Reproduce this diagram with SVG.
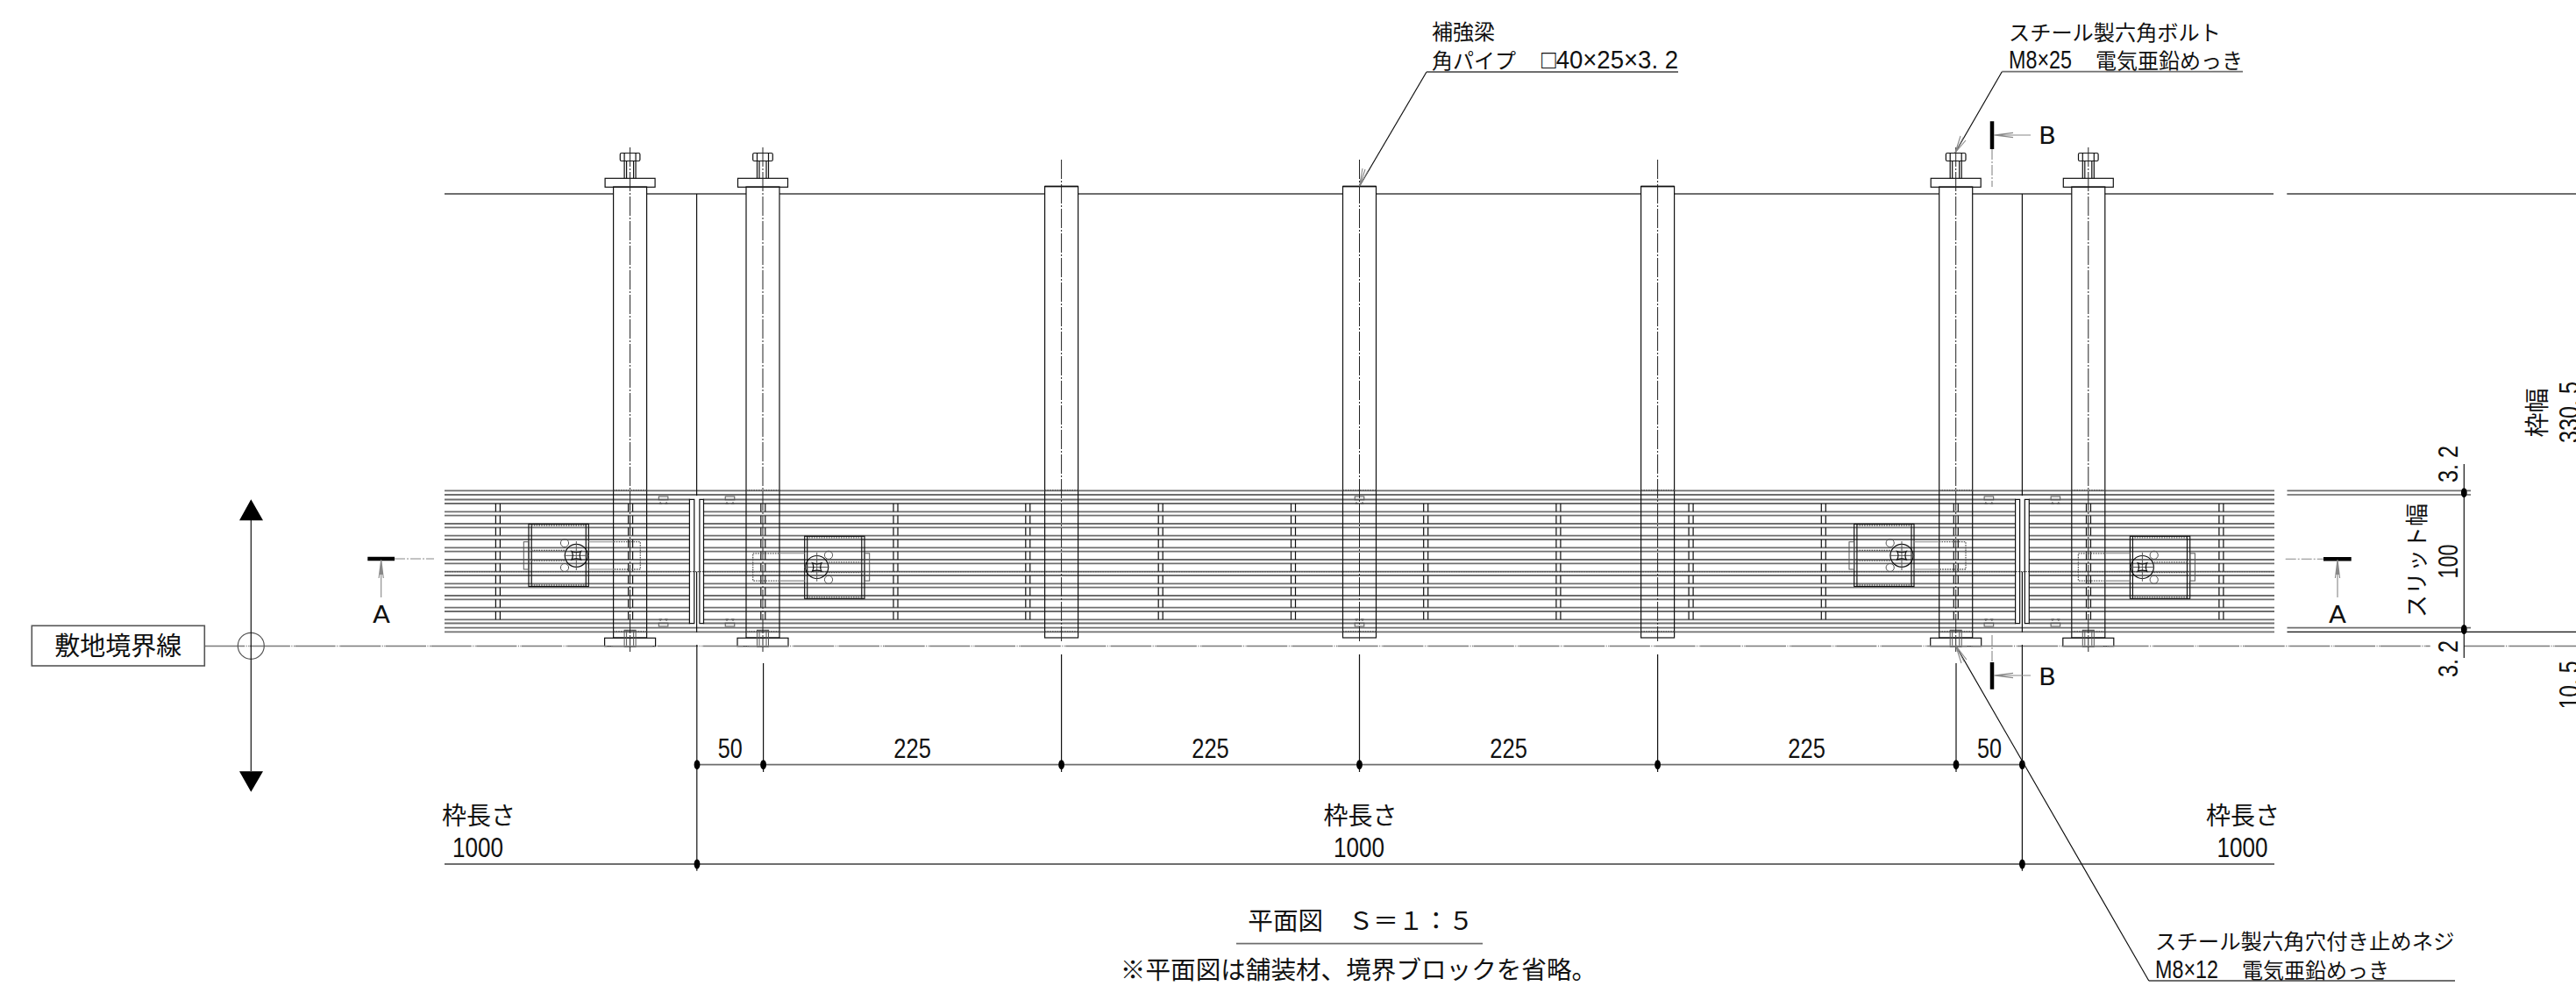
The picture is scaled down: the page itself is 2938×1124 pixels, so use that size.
<svg xmlns="http://www.w3.org/2000/svg" xmlns:xlink="http://www.w3.org/1999/xlink" width="2938" height="1124" viewBox="0 0 2938 1124">
<style>
text{fill:#111;font-family:"Noto Sans CJK JP","Liberation Sans",sans-serif}
.l{font-family:"Liberation Sans","Noto Sans CJK JP",sans-serif}
.w{font-family:"DejaVu Sans",sans-serif}
.m{text-anchor:middle}
.k{fill:none;stroke:#111;stroke-width:1.2}
.g{fill:none;stroke:#6e6e6e;stroke-width:1.8}
.h{fill:none;stroke:#888;stroke-width:1.1}
.c{fill:none;stroke:#222;stroke-width:1;stroke-dasharray:22 2 2 2}
.d{fill:none;stroke:#555;stroke-width:1.3;stroke-dasharray:1.6 1.2}
.cl{fill:none;stroke:#7a7a7a;stroke-width:1.7;stroke-dasharray:46.2 1.5 1 1.5 1 .5}
.b{fill:none;stroke:#000;stroke-width:4.5}
.s{fill:none;stroke:#555;stroke-width:1}
</style>
<defs>
<ellipse id="dot" rx="3.4" ry="5.5" fill="#000"/>
<path id="tick" class="k" d="M-2.5 574V583.3M2.5 574V583.3M-2.5 587.7V597M2.5 587.7V597M-2.5 601.3V610.6M2.5 601.3V610.6M-2.5 615V624.3M2.5 615V624.3M-2.5 628.6V638M2.5 628.6V638M-2.5 642.3V651.6M2.5 642.3V651.6M-2.5 656V665.3M2.5 656V665.3M-2.5 669.6V679M2.5 669.6V679M-2.5 683.3V692.6M2.5 683.3V692.6M-2.5 697V706.3M2.5 697V706.3"/>
<g id="clip">
<rect class="s" x="-5.3" y="566" width="10.6" height="3.8"/>
<path class="s" d="M-5 574.5H-1.5M1.5 574.5H5M-3.5 572V574.5M3.5 572V574.5"/>
<rect class="s" x="-5.3" y="710.2" width="10.6" height="3.8"/>
<path class="s" d="M-5 706H-1.5M1.5 706H5M-3.5 706V708M3.5 706V708"/>
</g>
<g id="plainPipe">
<rect x="-19" y="213" width="38" height="343" fill="#fff"/>
<path class="g" d="M-19 212.5H19"/>
<rect class="k" x="-19" y="212.5" width="38" height="514.5"/>
<path class="d" d="M-19 559H19M-19 720H19"/>
<path class="c" d="M0 182V731"/>
</g>
<g id="boltedPipe">
<rect x="-19" y="213" width="38" height="343" fill="#fff"/>
<rect class="k" x="-19" y="213" width="38" height="514"/>
<path class="d" d="M-19 559H19M-19 720H19"/>
<rect class="k" x="-28.5" y="203.3" width="57" height="10" fill="#fff"/>
<rect class="k" x="-29" y="727.3" width="58" height="9.4"/>
<path class="k" d="M-6.5 183.5V203.3M6.5 183.5V203.3M-4 183.5V203.3M4 183.5V203.3"/>
<rect class="k" x="-11.3" y="174.5" width="22.6" height="9" rx="1.5"/>
<path class="k" d="M-6.5 174.5V183.5M6.5 174.5V183.5"/>
<rect class="s" x="-6.5" y="718.3" width="13" height="19"/>
<path class="s" d="M-4 718.3V737.3M4 718.3V737.3"/>
<path class="d" d="M-6.5 719H6.5"/>
<path class="c" d="M0 168V743"/>
</g>
<g id="plate">
<rect class="k" x="603" y="597.5" width="68.3" height="71"/>
<path class="k" d="M606.2 597.5V668.5M668.3 597.5V668.5"/>
<path class="d" d="M606 599H668M606 667H668M606 627.3H646M606 639H646M700 617.7H730.3V649H700"/>
<rect class="s" x="597.3" y="617.7" width="5.7" height="31.3"/>
<path class="h" d="M671.3 617.7H700M671.3 649H700"/>
<circle class="k" cx="657.3" cy="633.3" r="13"/>
<circle class="s" cx="644" cy="619" r="4.6"/>
<circle class="s" cx="644" cy="647" r="4.6"/>
<path class="s" d="M643.5 633.3H672M657.3 617V650"/>
<path class="k" d="M652 628.5Q657.3 631 662.5 628.5Q660 633.3 662.5 638Q657.3 635.6 652 638Q654.6 633.3 652 628.5Z"/>
</g>
<g id="oarrowUp"><path class="h" d="M0 44V1M-2.6 22L0 1L2.6 22M-1 18L0 1L1 18"/></g>
</defs>

<g id="slit-lines">
<path class="g" d="M507 221H2593M2608.3 221H2938"/>
<path class="g" d="M507 559.3H2594M507 564H2594M507 569.5H2594M507 574H2594M507 583.3H2594M507 587.7H2594M507 597H2594M507 601.3H2594M507 610.6H2594M507 615H2594M507 624.3H2594M507 628.6H2594M507 638H2594M507 642.3H2594M507 651.6H2594M507 656H2594M507 665.3H2594M507 669.6H2594M507 679H2594M507 683.3H2594M507 692.6H2594M507 697H2594M507 706.3H2594M507 710.5H2594M507 715.7H2594M507 720.3H2594"/>
<path class="g" d="M2608.5 559.3H2818M2608.5 715.7H2818"/>
<path class="k" d="M2608.5 564H2818M2608.5 720.3H2938"/>
<rect x="786.8" y="566" width="15.4" height="148" fill="#fff"/>
<rect x="2298.8" y="566" width="15.4" height="148" fill="#fff"/>
<path class="d" d="M507 651.6H2594"/>
</g>

<g id="ties">
<use href="#tick" x="567.9"/><use href="#tick" x="719.1"/><use href="#tick" x="870.3"/><use href="#tick" x="1021.5"/><use href="#tick" x="1172.3"/><use href="#tick" x="1323.7"/><use href="#tick" x="1475"/><use href="#tick" x="1626.2"/><use href="#tick" x="1777.4"/><use href="#tick" x="1928.6"/><use href="#tick" x="2079.8"/><use href="#tick" x="2230.8"/><use href="#tick" x="2382"/><use href="#tick" x="2533.4"/>
<use href="#clip" x="756.6"/><use href="#clip" x="832.5"/><use href="#clip" x="1550.5"/><use href="#clip" x="2268.4"/><use href="#clip" x="2344.4"/>
</g>

<g id="divider-left"><path class="k" stroke-width="1.6" d="M786.4 710.7V569.4H791.8V710.7ZM797.9 710.7V569.4H802.5V710.7ZM794.6 221V565M794.6 651.7V720.7"/></g>
<g id="divider-right"><path class="k" stroke-width="1.6" d="M2298.6 710.7V569.4H2303.6V710.7ZM2309.3 710.7V569.4H2314.3V710.7ZM2306.4 221V565M2306.4 651.7V720.7"/></g>

<g id="pipe-1"><use href="#boltedPipe" x="718.6"/></g>
<g id="pipe-2"><use href="#boltedPipe" x="870"/></g>
<g id="pipe-3"><use href="#plainPipe" x="1210.6"/></g>
<g id="pipe-4"><use href="#plainPipe" x="1550.5"/></g>
<g id="pipe-5"><use href="#plainPipe" x="1890.6"/></g>
<g id="pipe-6"><use href="#boltedPipe" x="2230.7"/></g>
<g id="pipe-7"><use href="#boltedPipe" x="2381.8"/></g>

<g id="anchor-1"><use href="#plate"/></g>
<g id="anchor-2"><use href="#plate" transform="rotate(180 794.5 639.9)"/></g>
<g id="anchor-3"><use href="#plate" x="1511.7"/></g>
<g id="anchor-4"><use href="#plate" transform="translate(1511.7 0) rotate(180 794.5 639.9)"/></g>

<g id="connectors">
<path class="cl" d="M233 736.5H2771.7M2810.3 736.5H2938"/>
<path class="g" d="M795 871.7H2306.4M507 985H2594"/>
<path class="k" d="M794.8 735V992.7M2306.4 735V992.7M870.6 756V880M1210.6 746V880M1550.5 746V880M1890.6 746V880M2231 756V880"/>
<use href="#dot" x="795" y="871.7"/><use href="#dot" x="870.6" y="871.7"/><use href="#dot" x="1210.6" y="871.7"/><use href="#dot" x="1550.5" y="871.7"/><use href="#dot" x="1890.6" y="871.7"/><use href="#dot" x="2231" y="871.7"/><use href="#dot" x="2306.4" y="871.7"/><use href="#dot" x="795" y="985"/><use href="#dot" x="2306.4" y="985"/>
<path class="k" d="M2810.3 529V750"/>
<use href="#dot" x="2810.3" y="561.7"/><use href="#dot" x="2810.3" y="717.5"/>
<path class="h" d="M450 637H495M2606.7 637.3H2650" stroke-dasharray="12 2 2 2"/>
<path class="h" d="M2272 170V213M2272 724V755" stroke-dasharray="12 2 2 2"/>
<path class="b" d="M419.3 637H450M2650 637.3H2681.7M2272 138.3V170M2272 755V785.7"/>
<use href="#oarrowUp" x="434.7" y="637"/>
<use href="#oarrowUp" x="2666" y="637"/>
<path class="h" d="M2316 154H2274M2296 151.4L2274 154L2296 156.6M2316 770H2274M2296 767.4L2274 770L2296 772.6"/>
<path class="k" stroke-width="1" d="M1627 82L1550.5 212.3"/>
<path class="h" d="M1550.5 212.3L1554 192M1550.5 212.3L1560 195M1550.5 212.3L1557 193"/>
<path class="g" d="M1914 82H1627M2558 81.7H2283.3M2800 1118H2450.8M1410 1075.7H1691"/>
<path class="k" stroke-width="1" d="M2283.3 81.7L2230 174M2450.8 1118L2230.6 736"/>
<path class="h" d="M2230 174L2236 155M2230 174L2242 160M2230 174L2239 157M2230.6 736L2237 756M2230.6 736L2243 752M2230.6 736L2240 754"/>
</g>

<g id="boundary-marker">
<rect x="36.3" y="713.3" width="197" height="45.7" fill="#fff" stroke="#555" stroke-width="1.6"/>
<text class="m" x="134.8" y="747" font-size="29">敷地境界線</text>
<circle cx="286.3" cy="736.3" r="15" fill="none" stroke="#555" stroke-width="1.2"/>
<path class="k" stroke-width="1.6" d="M286.3 593V879"/>
<path d="M286.3 569.3L273 593.3H300ZM286.3 902.7L273 879.3H300Z" fill="#000"/>
</g>

<g id="labels">
<text class="w" x="425" y="710" font-size="27" textLength="20" lengthAdjust="spacingAndGlyphs">A</text>
<text class="w" x="2656" y="710" font-size="27" textLength="20" lengthAdjust="spacingAndGlyphs">A</text>
<text class="w" x="2325" y="164" font-size="27" textLength="20" lengthAdjust="spacingAndGlyphs">B</text>
<text class="w" x="2325" y="781" font-size="27" textLength="20" lengthAdjust="spacingAndGlyphs">B</text>

<text x="1633" y="45" font-size="24">補強梁</text>
<text x="1633" y="78" font-size="24">角パイプ<tspan class="l" x="1758" font-size="30" textLength="156" lengthAdjust="spacingAndGlyphs">□40×25×3. 2</tspan></text>
<text x="2291" y="46" font-size="24.2">スチール製六角ボルト</text>
<text x="2291" y="78" font-size="24"><tspan class="l" font-size="30" textLength="72" lengthAdjust="spacingAndGlyphs">M8×25</tspan><tspan x="2390">電気亜鉛めっき</tspan></text>
<text x="2458" y="1082" font-size="24.4">スチール製六角穴付き止めネジ</text>
<text x="2458" y="1115" font-size="24"><tspan class="l" font-size="30" textLength="72" lengthAdjust="spacingAndGlyphs">M8×12</tspan><tspan x="2557">電気亜鉛めっき</tspan></text>

<text class="l m" x="832.8" y="864" font-size="31" textLength="28" lengthAdjust="spacingAndGlyphs">50</text>
<text class="l m" x="1040.6" y="864" font-size="31" textLength="42.5" lengthAdjust="spacingAndGlyphs">225</text>
<text class="l m" x="1380.5" y="864" font-size="31" textLength="42.5" lengthAdjust="spacingAndGlyphs">225</text>
<text class="l m" x="1720.6" y="864" font-size="31" textLength="42.5" lengthAdjust="spacingAndGlyphs">225</text>
<text class="l m" x="2060.6" y="864" font-size="31" textLength="42.5" lengthAdjust="spacingAndGlyphs">225</text>
<text class="l m" x="2269" y="864" font-size="31" textLength="28" lengthAdjust="spacingAndGlyphs">50</text>

<text class="m" x="546" y="940" font-size="28">枠長さ</text>
<text class="l m" x="545" y="976.7" font-size="31" textLength="58" lengthAdjust="spacingAndGlyphs">1000</text>
<text class="m" x="1551.5" y="940" font-size="28">枠長さ</text>
<text class="l m" x="1550" y="976.7" font-size="31" textLength="58" lengthAdjust="spacingAndGlyphs">1000</text>
<text class="m" x="2558" y="940" font-size="28">枠長さ</text>
<text class="l m" x="2557.5" y="976.7" font-size="31" textLength="58" lengthAdjust="spacingAndGlyphs">1000</text>

<text class="m" x="1552" y="1060" font-size="28.6">平面図　Ｓ＝１：５</text>
<text class="m" x="1549.5" y="1116" font-size="28.6">※平面図は舗装材、境界ブロックを省略。</text>

<text class="l m" transform="translate(2803 529) rotate(-90)" font-size="32" textLength="42" lengthAdjust="spacingAndGlyphs">3. 2</text>
<text class="l m" transform="translate(2803 751) rotate(-90)" font-size="32" textLength="42" lengthAdjust="spacingAndGlyphs">3. 2</text>
<text class="l m" transform="translate(2803 640) rotate(-90)" font-size="32" textLength="39" lengthAdjust="spacingAndGlyphs">100</text>
<text class="m" transform="translate(2766 639) rotate(-90)" font-size="26">スリット幅</text>
<text class="m" transform="translate(2904 470.5) rotate(-90)" font-size="28">枠幅</text>
<text class="l m" transform="translate(2941 470) rotate(-90)" font-size="32" textLength="70" lengthAdjust="spacingAndGlyphs">330. 5</text>
<text class="l m" transform="translate(2941 781) rotate(-90)" font-size="32" textLength="55" lengthAdjust="spacingAndGlyphs">10. 5</text>
</g>
</svg>
